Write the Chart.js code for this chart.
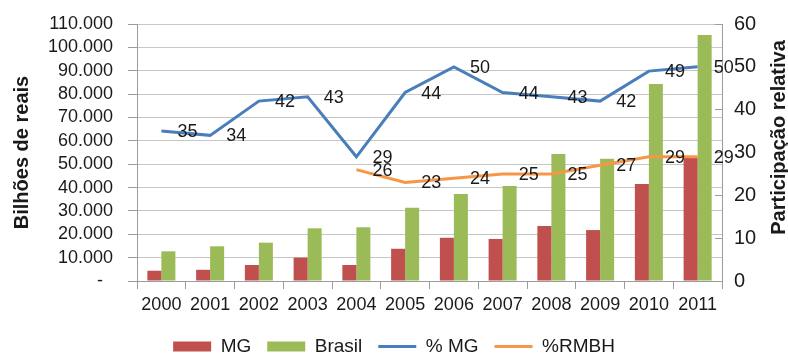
<!DOCTYPE html>
<html lang="pt-BR">
<head>
<meta charset="utf-8">
<title>Participação de MG no Brasil</title>
<script src="https://cdn.jsdelivr.net/npm/chart.js@4.4.1/dist/chart.umd.min.js"></script>
<style>
  html, body { margin: 0; padding: 0; background: #ffffff; }
  #wrap { width: 788px; height: 356px; position: relative; }
</style>
</head>
<body>
<div id="wrap"><canvas id="chart"></canvas></div>
<script>
// Anos
const years = ['2000', '2001', '2002', '2003', '2004', '2005', '2006', '2007', '2008', '2009', '2010', '2011'];

// Valores em bilhões de reais
const mgValues = [4400, 4800, 6850, 10000, 6850, 13800, 18500, 18000, 23550, 21800, 41500, 53000];
const brasilValues = [12700, 14850, 16400, 22550, 23000, 31400, 37250, 40650, 54350, 52350, 84300, 105300];

// Participação relativa (%)
const pctMG = [35, 34, 42, 43, 29, 44, 50, 44, 43, 42, 49, 50];
const pctRMBH = [null, null, null, null, 26, 23, 24, 25, 25, 27, 29, 29];

// Eixos
const leftAxisMax = 110000;
const leftAxisStep = 10000;
const rightAxisMax = 60;
const rightAxisStep = 10;

const FONT = '"Liberation Sans", Arial, Helvetica, sans-serif';
const TEXT = '#1a1a1a';
const GRID = '#c6c6c6';
const AXIS = '#9c9c9c';

Chart.defaults.font.family = FONT;
Chart.defaults.color = TEXT;

function milhar(v) {
  if (v === 0) return '-  ';
  return String(v).replace(/\B(?=(\d{3})+(?!\d))/g, '.');
}

// Rótulos de valor à direita de cada ponto das linhas
const valueLabels = {
  id: 'valueLabels',
  afterDatasetsDraw(chart) {
    const ctx = chart.ctx;
    ctx.save();
    ctx.font = '18px ' + FONT;
    ctx.fillStyle = TEXT;
    ctx.textAlign = 'left';
    ctx.textBaseline = 'middle';
    chart.data.datasets.forEach((ds, i) => {
      if (ds.type !== 'line') return;
      const meta = chart.getDatasetMeta(i);
      meta.data.forEach((pt, j) => {
        const v = ds.data[j];
        if (v === null || v === undefined) return;
        ctx.fillText(String(v), pt.x + 16, pt.y + 1);
      });
    });
    ctx.restore();
  }
};

// Título do eixo direito, lido de baixo para cima
const rightTitle = {
  id: 'rightTitle',
  afterDraw(chart) {
    const s = chart.scales.yPct;
    const ctx = chart.ctx;
    ctx.save();
    ctx.translate(s.right - 9, (s.top + s.bottom) / 2 - 15);
    ctx.rotate(-Math.PI / 2);
    ctx.font = 'bold 20px ' + FONT;
    ctx.fillStyle = TEXT;
    ctx.textAlign = 'center';
    ctx.textBaseline = 'middle';
    ctx.fillText('Participação relativa', 0, 0);
    ctx.restore();
  }
};

// Os eixos verticais não reservam espaço extra acima/abaixo da área do gráfico
function fixVertical(width) {
  return function (s) {
    s.width = width;
    s.paddingTop = 0;
    s.paddingBottom = 0;
  };
}

new Chart(document.getElementById('chart'), {
  type: 'bar',
  data: {
    labels: years,
    datasets: [
      {
        type: 'bar', label: 'MG', data: mgValues, yAxisID: 'yReais',
        backgroundColor: '#C0504D', borderWidth: 0,
        categoryPercentage: 0.575, barPercentage: 1.0, order: 2
      },
      {
        type: 'bar', label: 'Brasil', data: brasilValues, yAxisID: 'yReais',
        backgroundColor: '#9BBB59', borderWidth: 0,
        categoryPercentage: 0.575, barPercentage: 1.0, order: 3
      },
      {
        type: 'line', label: '% MG', data: pctMG, yAxisID: 'yPct',
        borderColor: '#4A7EBB', backgroundColor: '#4A7EBB', borderWidth: 3,
        pointRadius: 0, tension: 0, fill: false, order: 0
      },
      {
        type: 'line', label: '%RMBH', data: pctRMBH, yAxisID: 'yPct',
        borderColor: '#F79646', backgroundColor: '#F79646', borderWidth: 3,
        pointRadius: 0, tension: 0, fill: false, order: 1
      }
    ]
  },
  options: {
    responsive: true,
    maintainAspectRatio: false,
    animation: false,
    layout: { padding: { left: 0, right: 0, top: 24, bottom: -10 } },
    plugins: {
      tooltip: { enabled: false },
      legend: {
        position: 'bottom',
        labels: {
          usePointStyle: true,
          pointStyleWidth: 38,
          boxHeight: 10,
          padding: 16,
          color: TEXT,
          font: { size: 19 },
          sort: (a, b) => a.datasetIndex - b.datasetIndex,
          generateLabels(chart) {
            const items = Chart.defaults.plugins.legend.labels.generateLabels(chart);
            items.forEach(it => {
              const ds = chart.data.datasets[it.datasetIndex];
              if (ds.type === 'line') {
                it.pointStyle = 'line';
                it.strokeStyle = ds.borderColor;
                it.lineWidth = 3;
              } else {
                it.pointStyle = 'rect';
                it.lineWidth = 0;
              }
            });
            return items;
          }
        }
      }
    },
    scales: {
      x: {
        grid: { display: true, drawOnChartArea: false, drawTicks: true, tickLength: 8, color: AXIS, offset: true },
        border: { display: true, color: AXIS },
        ticks: { font: { size: 18 }, color: TEXT, padding: 5, maxRotation: 0, autoSkip: false },
        afterFit(s) { s.height = 40; }
      },
      yReais: {
        type: 'linear', position: 'left', min: 0, max: leftAxisMax,
        grid: { color: GRID, tickColor: AXIS, tickLength: 9, drawTicks: true },
        border: { display: true, color: AXIS },
        ticks: {
          stepSize: leftAxisStep, maxTicksLimit: 20, autoSkip: false,
          font: { size: 18 }, color: TEXT, padding: 15, callback: v => milhar(v)
        },
        title: {
          display: true, text: 'Bilhões de reais', color: TEXT,
          font: { size: 20, weight: 'bold', lineHeight: 1 },
          padding: { top: 12, bottom: 0 }
        },
        afterFit: fixVertical(137)
      },
      yPct: {
        type: 'linear', position: 'right', min: 0, max: rightAxisMax,
        grid: { display: true, drawOnChartArea: false, drawTicks: true, tickLength: -7, color: AXIS },
        border: { display: true, color: AXIS },
        ticks: { stepSize: rightAxisStep, autoSkip: false, font: { size: 20 }, color: TEXT, padding: 19 },
        afterFit: fixVertical(66)
      }
    }
  },
  plugins: [valueLabels, rightTitle]
});
</script>
</body>
</html>
